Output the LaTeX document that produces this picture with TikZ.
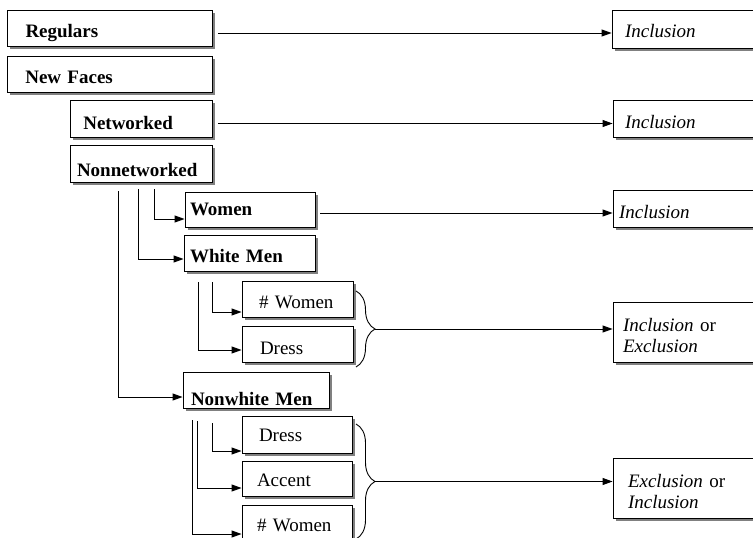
\documentclass[tikz,border=0pt]{standalone}
\usepackage{fontspec}
\setmainfont{Liberation Serif}
\usetikzlibrary{arrows.meta,shadows,decorations.pathreplacing}
\begin{document}
\begin{tikzpicture}[x=1pt,y=-1pt,
  box/.style={draw=black, line width=0.9pt, fill=white, rectangle, inner ysep=0pt,
    align=left, font=\fontsize{19}{21}\selectfont,
    drop shadow={shadow xshift=3pt, shadow yshift=-3pt, fill=black!50, opacity=1}},
  dims/.code n args={4}{\pgfmathsetmacro\boxtw{#1-2*#3}%
    \edef\boxnext{\noexpand\tikzset{minimum width=#1pt, minimum height=#2pt,
      inner xsep=#3pt, text width=\boxtw pt, text height=#4pt, text depth=0pt}}\boxnext},
  arr/.style={line width=0.9pt, -{Triangle[length=10pt,width=7pt]}},
  ln/.style={line width=0.9pt},
  brc/.style={line width=0.9pt, decorate, decoration={brace, amplitude=19pt}}
]
\useasboundingbox (0,0) rectangle (753,538);
\clip (0,0) rectangle (753,538);

% left column boxes
\node[box, dims={205}{36}{18.5}{19}] (reg) at (109.5,28) {\textbf{Regulars}};
\node[box, dims={205}{36}{18.3}{19}] (nf) at (109.5,74) {\textbf{New Faces}};
\node[box, dims={142}{37}{13.3}{21}] (net) at (141,118.5) {\textbf{Networked}};
\node[box, dims={142}{37}{7}{25}] (nonnet) at (141,163.5) {\textbf{Nonnetworked}};
\node[box, dims={130}{35}{5}{12}] (women) at (250,209.5) {\textbf{Women}};
\node[box, dims={131}{36}{6}{18}] (wm) at (249.5,253) {\textbf{White Men}};
\node[box, dims={111}{36}{17}{18.6}] (w1) at (297.5,299) {\# Women};
\node[box, dims={111}{36}{18}{20}] (d1) at (297.5,344) {Dress};
\node[box, dims={146}{36}{8}{30}] (nwm) at (256,390) {\textbf{Nonwhite Men}};
\node[box, dims={110}{37}{17}{13}] (d2) at (297,434.5) {Dress};
\node[box, dims={110}{35}{15}{15}] (acc) at (297,478.5) {Accent};
\node[box, dims={110}{36}{15}{16}] (w2) at (297,523) {\# Women};

% right column boxes
\node[box, dims={163}{38}{13}{16}] (inc1) at (693.5,29) {\textit{Inclusion}};
\node[box, dims={162}{37}{12}{19}] (inc2) at (694,118.5) {\textit{Inclusion}};
\node[box, dims={162}{37}{6}{19}] (inc3) at (694,208.5) {\textit{Inclusion}};
\node[box, dims={162}{60}{10}{12}, text depth=14pt] (ie) at (694,332) {\textit{Inclusion} or\\\textit{Exclusion}};
\node[box, dims={162}{60}{15}{12}, text depth=14pt] (ei) at (694,488) {\textit{Exclusion} or\\\textit{Inclusion}};

% horizontal arrows
\coordinate (ra) at (218,33);
\coordinate (rb) at (218,123.5);
\coordinate (rc) at (320,213);
\draw[arr] (ra) -- (ra -| inc1.west);
\draw[arr] (rb) -- (rb -| inc2.west);
\draw[arr] (rc) -- (rc -| inc3.west);

% tree connectors from Nonnetworked
\coordinate (na) at (154,189);
\coordinate (nb) at (138,189);
\coordinate (nc) at (118,191);
\draw[arr] (na) |- ([yshift=-9.5pt]women.west);
\draw[arr] (nb) |- ([yshift=-6pt]wm.west);
\draw[arr] (nc) |- ([yshift=-7pt]nwm.west);

% from White Men
\coordinate (wa) at (212,282);
\coordinate (wb) at (198,282);
\draw[arr] (wa) |- ([yshift=-13pt]w1.west);
\draw[arr] (wb) |- ([yshift=-6pt]d1.west);

% from Nonwhite Men
\coordinate (xa) at (212,423);
\coordinate (xb) at (197,421);
\coordinate (xc) at (192,420);
\draw[arr] (xa) |- ([yshift=-16.5pt]d2.west);
\draw[arr] (xb) |- ([yshift=-9.5pt]acc.west);
\draw[arr] (xc) |- ([yshift=-11pt]w2.west);

% braces
\coordinate (b1t) at (356,291);
\coordinate (b1b) at (356,367);
\coordinate (b1tip) at (375,329);
\draw[brc] (b1t) -- (b1b);
\draw[arr] (b1tip) -- (b1tip -| ie.west);

\coordinate (b2t) at (356,424);
\coordinate (b2b) at (356,539);
\coordinate (b2tip) at (375,481.5);
\draw[brc] (b2t) -- (b2b);
\draw[arr] (b2tip) -- (b2tip -| ei.west);
\end{tikzpicture}
\end{document}
